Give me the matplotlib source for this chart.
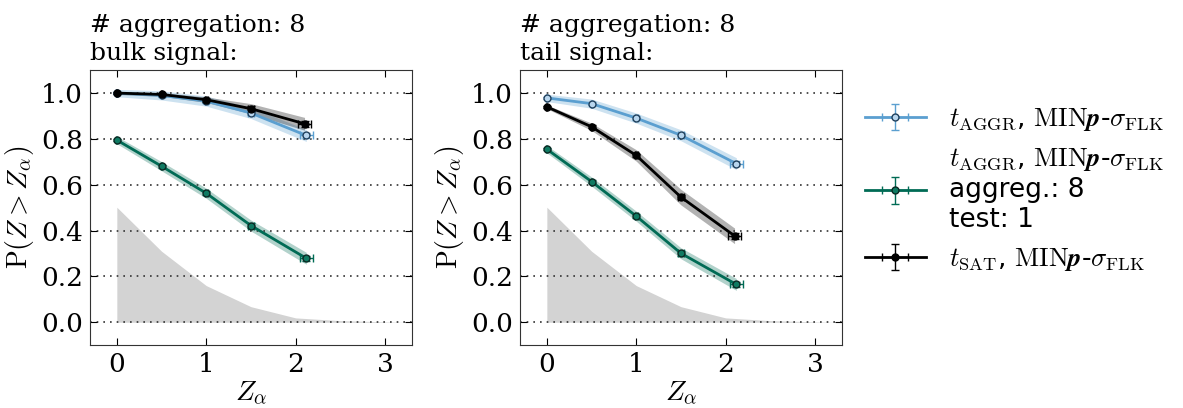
import numpy as np
import matplotlib
matplotlib.use("Agg")
import matplotlib.pyplot as plt

plt.rcParams["font.family"] = "DejaVu Serif"
plt.rcParams["mathtext.fontset"] = "cm"

# --- data ---
Z_ALPHA = [0.0, 0.5, 1.0, 1.5, 2.12]
Z_ALPHA_SAT = [0.0, 0.5, 1.0, 1.5, 2.10]

# null distribution (grey area)
NULL_X = [0.0, 0.5, 1.0, 1.5, 2.0, 2.5, 3.0, 3.3]
NULL_Y = [0.502, 0.31, 0.16, 0.068, 0.019, 0.007, 0.002, 0.0]

# bulk signal
BULK_AGGR = [1.0, 0.99, 0.965, 0.913, 0.815]
BULK_AGGR8 = [0.795, 0.681, 0.563, 0.422, 0.279]
BULK_SAT = [1.0, 0.994, 0.971, 0.932, 0.866]
BULK_SAT_BAND = [0.006, 0.008, 0.012, 0.022, 0.028]

# tail signal
TAIL_AGGR = [0.979, 0.954, 0.891, 0.816, 0.692]
TAIL_AGGR8 = [0.755, 0.614, 0.463, 0.301, 0.165]
TAIL_SAT = [0.940, 0.853, 0.728, 0.546, 0.377]
TAIL_SAT_BAND = [0.008, 0.016, 0.025, 0.034, 0.034]

BAND = [0.016, 0.02, 0.022, 0.024, 0.026]
XERR = [0.005, 0.01, 0.015, 0.03, 0.07]
YERR = [0.004, 0.006, 0.008, 0.01, 0.012]

LBL_AGGR = r"$t_{\rm AGGR}$, ${\rm MIN}\boldsymbol{p}$-$\sigma_{\rm FLK}$"
LBL_AGGR8 = LBL_AGGR + "\naggreg.: 8\ntest: 1"
LBL_SAT = r"$t_{\rm SAT}$, ${\rm MIN}\boldsymbol{p}$-$\sigma_{\rm FLK}$"

C_BLUE = "#5b9fd0"
C_GREEN = "#006b55"
C_BLACK = "#000000"


def _series(ax, x, y, band, color, mfc, mec, label):
    x = np.asarray(x)
    y = np.asarray(y)
    band = np.asarray(band)
    ax.fill_between(x, y - band, y + band, color=color, alpha=0.3, lw=0)
    ax.errorbar(x, y, xerr=XERR, yerr=YERR, color=color, lw=2, marker="o",
                ms=5, mfc=mfc, mec=mec, mew=1, capsize=3, elinewidth=1,
                label=label, zorder=3)


def _panel(ax, title, aggr, aggr8, sat, sat_band):
    ax.fill_between(NULL_X, 0, NULL_Y, color="#d3d3d3", lw=0, zorder=0)
    _series(ax, Z_ALPHA, aggr, BAND, C_BLUE, "#b8d6ee", "#20405c", LBL_AGGR)
    _series(ax, Z_ALPHA, aggr8, BAND, C_GREEN, "#0f7a62", "#0b2a24", LBL_AGGR8)
    _series(ax, Z_ALPHA_SAT, sat, sat_band, C_BLACK, "k", "k", LBL_SAT)

    ax.set_xlim(-0.3, 3.3)
    ax.set_ylim(-0.1, 1.1)
    ax.set_xticks([0, 1, 2, 3])
    ax.set_yticks([0.0, 0.2, 0.4, 0.6, 0.8, 1.0])
    ax.set_yticklabels(["0.0", "0.2", "0.4", "0.6", "0.8", "1.0"])
    ax.yaxis.grid(True, ls=(0, (1, 3)), color="0.2", lw=1.2)
    ax.tick_params(direction="in", top=True, right=True, labelsize=19,
                   length=5, pad=5)
    for sp in ax.spines.values():
        sp.set_color("0.2")
    ax.set_xlabel(r"$Z_\alpha$", fontsize=20, labelpad=2)
    ax.set_ylabel(r"${\rm P}(Z > Z_\alpha)$", fontsize=20, labelpad=4)
    ax.set_title(title, loc="left", fontsize=18, linespacing=1.3, pad=7)


fig = plt.figure(figsize=(11.83, 4.08), dpi=100)
ax1 = fig.add_axes([0.0761, 0.154, 0.272, 0.674])
ax2 = fig.add_axes([0.4396, 0.154, 0.272, 0.674])

_panel(ax1, "# aggregation: 8\nbulk signal:", BULK_AGGR, BULK_AGGR8,
       BULK_SAT, BULK_SAT_BAND)
_panel(ax2, "# aggregation: 8\ntail signal:", TAIL_AGGR, TAIL_AGGR8,
       TAIL_SAT, TAIL_SAT_BAND)

handles, labels = ax2.get_legend_handles_labels()
fig.legend(handles, labels, loc="center left", bbox_to_anchor=(0.711, 0.535),
           frameon=False, prop={"family": "DejaVu Sans", "size": 19},
           handlelength=2.3, handletextpad=0.9, labelspacing=0.5)

fig.savefig("out.png", dpi=100)
